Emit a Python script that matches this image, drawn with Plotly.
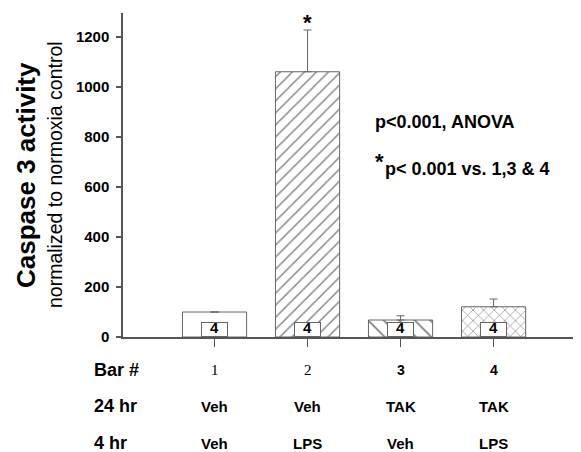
import plotly.graph_objects as go

# ---- data ----
bar_numbers = ["1", "2", "3", "4"]
treat_24hr = ["Veh", "Veh", "TAK", "TAK"]
treat_4hr = ["Veh", "LPS", "Veh", "LPS"]
caspase_values = [100, 1061, 68, 121]
caspase_errors = [0, 167, 17, 31]
n_per_group = [4, 4, 4, 4]
y_ticks = [0, 200, 400, 600, 800, 1000, 1200]

x_pos = [1, 2, 3, 4]

# ---- layout geometry (target pixels; page body has an 8px margin) ----
OFF = 8
W, H = 581 - OFF, 452 - OFF
L_T, T_T, B_T = 123, 13, 337          # plot area in window pixels
PW = W - (L_T - OFF)
PH = B_T - T_T


def px_x(px):
    return (px - L_T) / PW


def px_y(py):
    return (B_T - py) / PH


FONT = "Arial, Liberation Sans, sans-serif"
SERIF = "Times New Roman, Liberation Serif, serif"
GRAY = "#555555"

fig = go.Figure()

fig.add_trace(go.Bar(
    x=x_pos,
    y=caspase_values,
    width=0.69,
    marker=dict(
        color="white",
        line=dict(color="#666666", width=1),
        pattern=dict(
            shape=["", "/", "\\", "x"],
            size=[8, 8.5, 11, 7.5],
            solidity=0.16,
            fgcolor="#000000",
            bgcolor="white",
        ),
    ),
    error_y=dict(
        type="data",
        array=caspase_errors,
        arrayminus=[0, 0, 0, 0],
        symmetric=False,
        color="#666666",
        thickness=1,
        width=4,
    ),
    showlegend=False,
    hoverinfo="skip",
))

annotations = []

# n boxes inside bars
for xi, n in zip(x_pos, n_per_group):
    annotations.append(dict(
        x=xi, xref="x", y=0, yref="paper", yanchor="bottom", xanchor="center",
        text=f"<b>{n}</b>", showarrow=False,
        font=dict(family=FONT, size=15, color="black"),
        width=25, height=13, borderpad=0, borderwidth=1,
        bordercolor="#666666", bgcolor="white", valign="bottom",
    ))

# axis titles
annotations.append(dict(
    x=px_x(26), xref="paper", y=px_y(175), yref="paper", textangle=-90,
    text="<b>Caspase 3 activity</b>", showarrow=False,
    font=dict(family=FONT, size=26, color="black"),
    xanchor="center", yanchor="middle",
))
annotations.append(dict(
    x=px_x(55), xref="paper", y=px_y(175), yref="paper", textangle=-90,
    text="normalized to normoxia control", showarrow=False,
    font=dict(family=FONT, size=19.5, color="black"),
    xanchor="center", yanchor="middle",
))

# statistics text
annotations.append(dict(
    x=px_x(373), xref="paper", y=px_y(122), yref="paper",
    xanchor="left", yanchor="middle", showarrow=False,
    text="<b>p<0.001, ANOVA</b>",
    font=dict(family=FONT, size=18, color="black"),
))
annotations.append(dict(
    x=px_x(373), xref="paper", y=px_y(161), yref="paper",
    xanchor="left", yanchor="middle", showarrow=False,
    text="<b>*</b>",
    font=dict(family=FONT, size=22, color="black"),
))
annotations.append(dict(
    x=px_x(383), xref="paper", y=px_y(169), yref="paper",
    xanchor="left", yanchor="middle", showarrow=False,
    text="<b>p< 0.001 vs. 1,3 & 4</b>",
    font=dict(family=FONT, size=18, color="black"),
))
# significance asterisk above bar 2
annotations.append(dict(
    x=2, xref="x", y=px_y(9), yref="paper",
    xanchor="center", yanchor="top", showarrow=False,
    text="<b>*</b>", borderpad=0,
    font=dict(family=FONT, size=22, color="black"),
))

# table below axis
row_y = [px_y(370), px_y(406), px_y(443)]
row_labels = ["Bar #", "24 hr", "4 hr"]
for lbl, yy in zip(row_labels, row_y):
    annotations.append(dict(
        x=px_x(92), xref="paper", y=yy, yref="paper",
        xanchor="left", yanchor="middle", showarrow=False,
        text=f"<b>{lbl}</b>",
        font=dict(family=FONT, size=18, color="black"),
    ))

num_fonts = [
    dict(family=SERIF, size=15, color="black"),
    dict(family=SERIF, size=15, color="black"),
    dict(family=FONT, size=14, color="black", weight="bold"),
    dict(family=FONT, size=14, color="black", weight="bold"),
]
for xi, lbl, fnt in zip(x_pos, bar_numbers, num_fonts):
    annotations.append(dict(
        x=xi, xref="x", y=row_y[0], yref="paper",
        xanchor="center", yanchor="middle", showarrow=False,
        text=lbl, font=fnt,
    ))
for xi, lbl in zip(x_pos, treat_24hr):
    annotations.append(dict(
        x=xi, xref="x", y=row_y[1], yref="paper",
        xanchor="center", yanchor="middle", showarrow=False,
        text=f"<b>{lbl}</b>",
        font=dict(family=FONT, size=15, color="black"),
    ))
for xi, lbl in zip(x_pos, treat_4hr):
    annotations.append(dict(
        x=xi, xref="x", y=row_y[2], yref="paper",
        xanchor="center", yanchor="middle", showarrow=False,
        text=f"<b>{lbl}</b>",
        font=dict(family=FONT, size=15, color="black"),
    ))

fig.update_layout(
    width=W, height=H,
    margin=dict(l=L_T - OFF, r=0, t=T_T - OFF, b=H - (B_T - OFF), pad=0),
    paper_bgcolor="white", plot_bgcolor="white",
    annotations=annotations,
    xaxis=dict(
        range=[0.016, 4.94],
        tickvals=x_pos, ticktext=["", "", "", ""],
        ticks="outside", ticklen=8, tickcolor=GRAY, tickwidth=1,
        showline=True, linecolor=GRAY, linewidth=1.5,
        showgrid=False, zeroline=False, fixedrange=True,
    ),
    yaxis=dict(
        range=[0, 1296],
        tickvals=y_ticks,
        ticks="outside", ticklen=5, tickcolor=GRAY, tickwidth=1.5,
        showline=True, linecolor=GRAY, linewidth=1.5,
        showgrid=False, zeroline=False, fixedrange=True,
        tickfont=dict(family=FONT, size=15, color="black", weight="bold"),
        ticklabelstandoff=4,
    ),
)

fig.write_html("out.html")
